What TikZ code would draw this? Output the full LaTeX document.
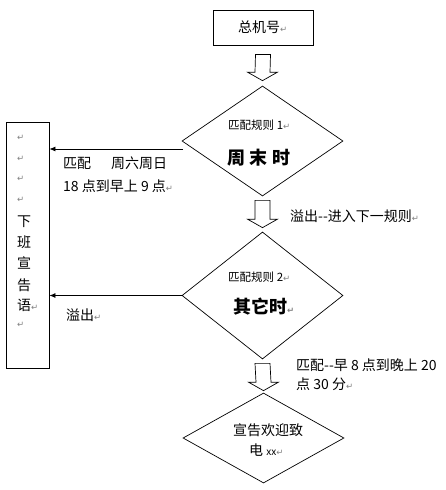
\documentclass[tikz,border=0pt]{standalone}
\usepackage{fontspec}
\setmainfont{Noto Sans CJK SC}
\newfontfamily\dvfont{DejaVu Sans}
\usetikzlibrary{shapes.geometric,arrows.meta,calc}
\newcommand\retm{{\dvfont\fontsize{8.5}{8.5}\selectfont\textcolor{gray}{↵}}}
\begin{document}
\begin{tikzpicture}[x=1pt,y=-1pt,
  box/.style={draw, line width=0.8pt, inner sep=0pt},
  dia/.style={draw, diamond, line width=0.7pt, inner sep=0pt},
  txt/.style={anchor=west, inner sep=0pt, font=\fontsize{14}{16}\selectfont},
  small/.style={anchor=west, inner sep=0pt, font=\fontsize{11.5}{14}\selectfont},
  big/.style={anchor=west, inner sep=0pt, font=\fontsize{18}{20}\selectfont\bfseries},
  arr/.style={-{Latex[length=6pt,width=5pt]}, line width=0.8pt},
  blk/.style={draw, line width=0.7pt, fill=white}]
\useasboundingbox (0,0) rectangle (445,490);

% boxes and diamonds
\node[box, minimum width=100pt, minimum height=35pt] (top) at (263,27.5) {};
\node[dia, minimum width=161pt, minimum height=110pt] (d1) at (262.5,141) {};
\node[dia, minimum width=161pt, minimum height=127pt] (d2) at (262.5,295.5) {};
\node[dia, minimum width=161pt, minimum height=90pt] (d3) at (263.5,438) {};
\node[box, minimum width=43pt, minimum height=246pt] (left) at (27.5,245) {};

% texts
\node[txt] (ttop) at (238,27.5) {总机号\retm};
\node[small] (r1) at (228,125) {匹配规则 1\retm};
\node[big] (w1) at (227,158) {周\hspace{4.5pt}末\hspace{4.5pt}时};
\node[small] (r2) at (228,277) {匹配规则 2\retm};
\node[big] (w2) at (233,307) {其它时\retm};
\node[txt] (g1) at (233,430) {宣告欢迎致};
\node[txt] (g2) at (249,450) {电 {\fontsize{10}{12}\selectfont xx}\retm};

\node[txt] (m1) at (63,163) {匹配\hspace{20pt}周六周日};
\node[txt] (m2) at (63,186) {18 点到早上 9 点\retm};
\node[txt] (o1) at (66,315) {溢出\retm};
\node[txt] (o2) at (290,216) {溢出-{}-进入下一规则\retm};
\node[txt] (p1) at (296,365) {匹配-{}-早 8 点到晚上 20};
\node[txt] (p2) at (296,384) {点 30 分\retm};

% left box content
\foreach \yy [count=\i] in {138,159,179,200} {
  \node[anchor=west, inner sep=0pt] (lr\i) at (17,\yy) {\retm};
}
\node[txt] (c1) at (17,222) {下};
\node[txt] (c2) at (17,242) {班};
\node[txt] (c3) at (17,263) {宣};
\node[txt] (c4) at (17,285) {告};
\node[txt] (c5) at (17,305) {语\retm};
\node[anchor=west, inner sep=0pt] (lr5) at (17,325) {\retm};

% line arrows
\coordinate (s1) at ($(d1.west)+(1.5,8)$);
\draw[arr] (s1) -- (s1 -| left.east);
\draw[arr] (d2.west) -- (d2.west -| left.east);

% block arrows
\coordinate (a1s) at ($(top.south)+(0,9)$);
\coordinate (a1t) at ($(d1.north)+(0,-5)$);
\coordinate (a2s) at ($(d1.south)+(0,4)$);
\coordinate (a2t) at ($(d2.north)+(0,-4)$);
\coordinate (a3s) at ($(d2.south)+(0,4)$);
\coordinate (a3t) at ($(d3.north)+(0,-2)$);
\foreach \s/\t in {a1s/a1t,a2s/a2t,a3s/a3t} {
  \draw[blk] ($(\s)+(-7.5,0)$) -- ($(\s)+(7.5,0)$) -- ($(\t)+(7.5,-8.5)$)
    -- ($(\t)+(15,-8.5)$) -- (\t) -- ($(\t)+(-15,-8.5)$) -- ($(\t)+(-7.5,-8.5)$) -- cycle;
}
\end{tikzpicture}
\end{document}
